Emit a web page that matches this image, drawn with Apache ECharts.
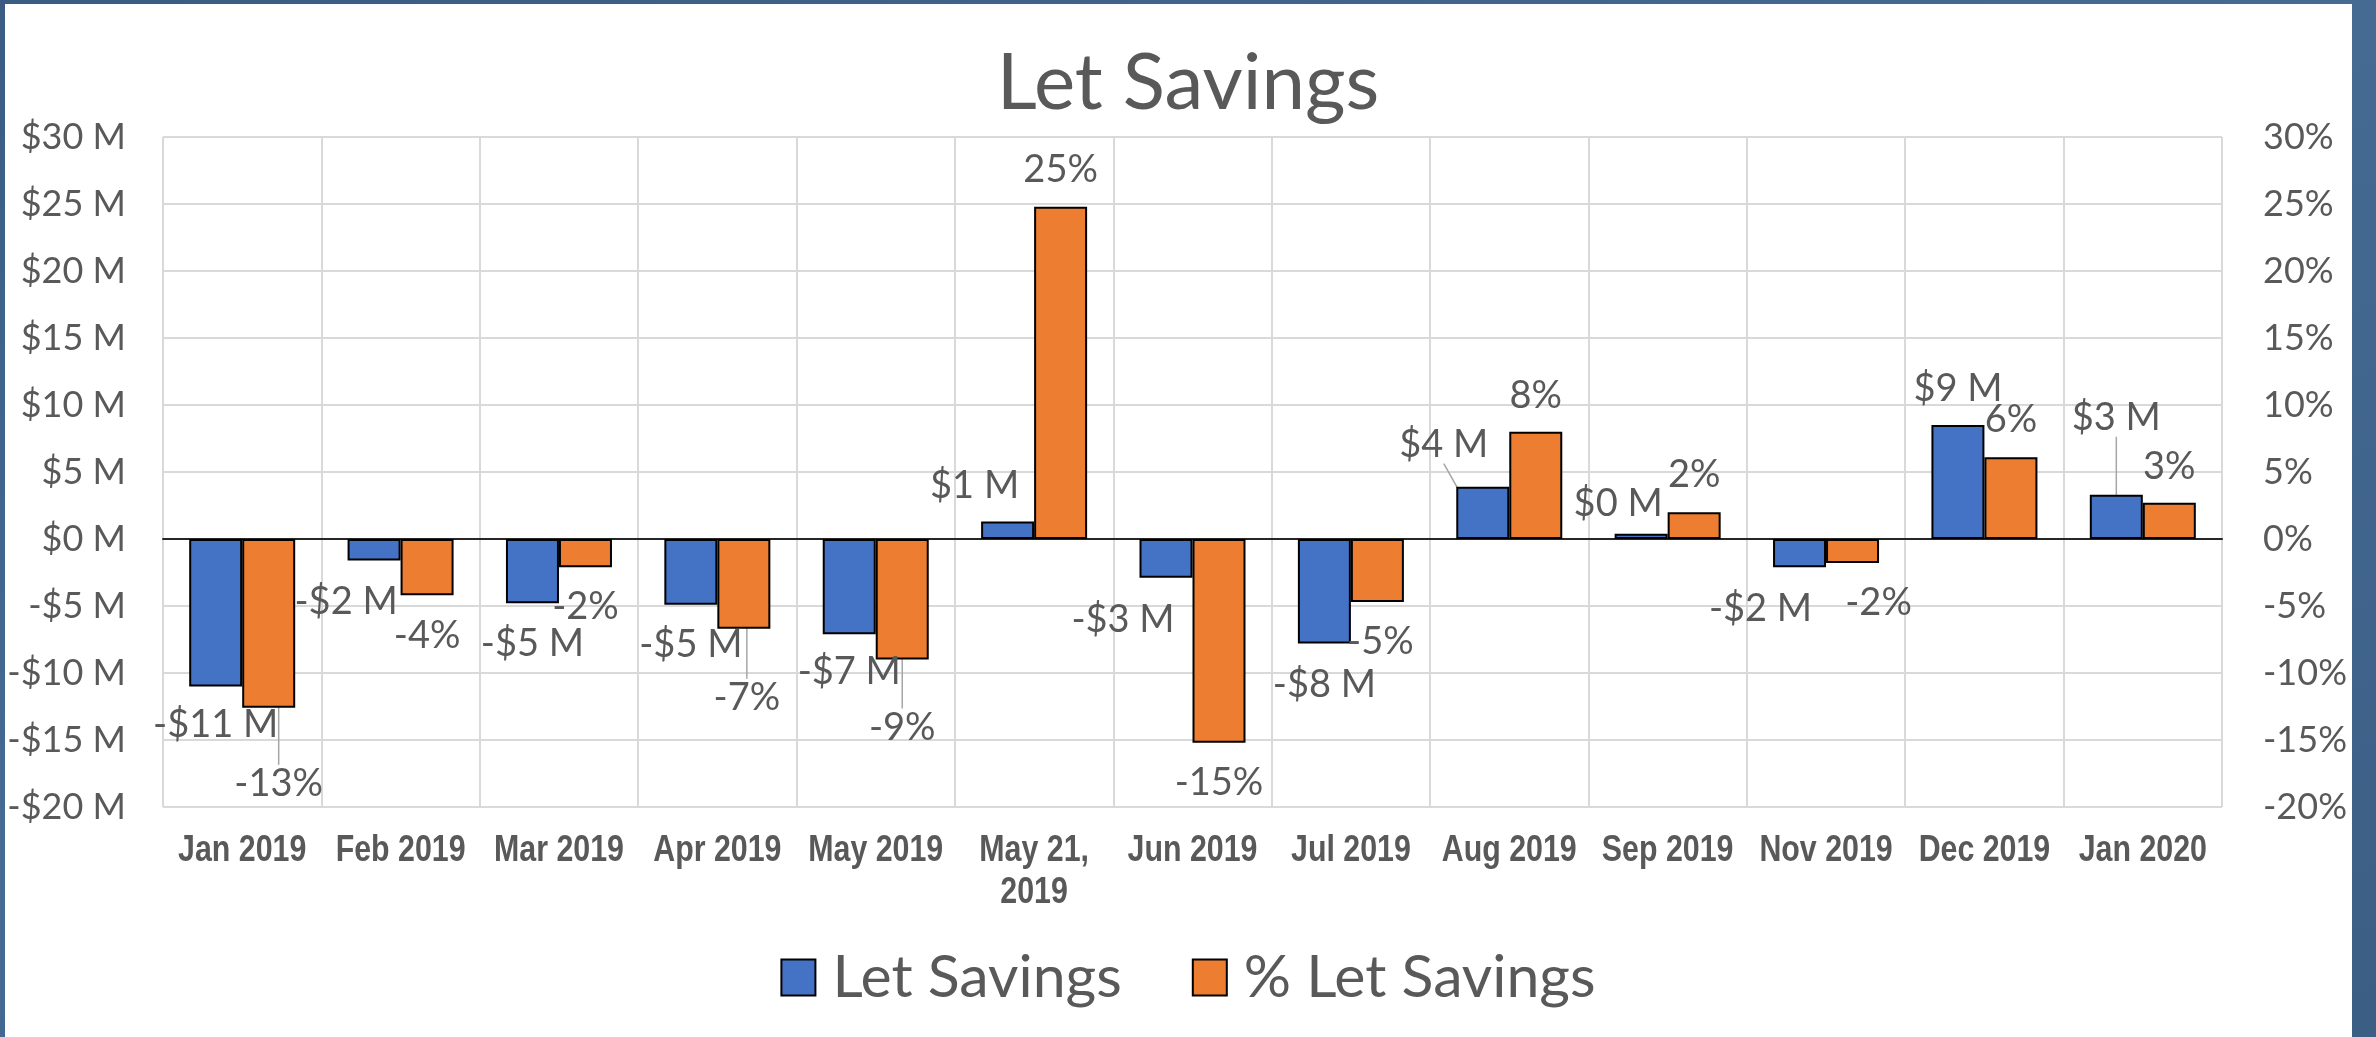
<!DOCTYPE html>
<html>
<head>
<meta charset="utf-8">
<title>Let Savings</title>
<script src="https://cdn.jsdelivr.net/npm/echarts@6/dist/echarts.min.js"></script>
<style>
  html, body { margin: 0; padding: 0; }
  body {
    width: 2376px; height: 1037px; overflow: hidden; position: relative;
    background: linear-gradient(160deg, #3a5c82 0%, #456b93 45%, #3b5e84 100%);
  }
  #panel { position: absolute; left: 5px; top: 4px; width: 2347px; height: 1033px; background: #fff; }
  #chart { position: absolute; left: 0; top: 0; width: 2376px; height: 1037px; }
</style>
</head>
<body>
<div id="panel"></div>
<div id="chart"></div>
<script>
  // categories (x axis)
  var months = ['Jan 2019', 'Feb 2019', 'Mar 2019', 'Apr 2019', 'May 2019', 'May 21, 2019',
    'Jun 2019', 'Jul 2019', 'Aug 2019', 'Sep 2019', 'Nov 2019', 'Dec 2019', 'Jan 2020'];
  // Let Savings, $ millions (left axis)
  var letSavings = [-11.0, -1.6, -4.8, -4.9, -7.1, 1.3, -2.9, -7.8, 3.9, 0.4, -2.1, 8.5, 3.3];
  // % Let Savings (right axis)
  var pctLetSavings = [-12.6, -4.2, -2.1, -6.7, -9.0, 24.8, -15.2, -4.7, 8.0, 2.0, -1.8, 6.1, 2.7];
  // axis ticks
  var moneyTicks = { min: -20, max: 30, step: 5 };
  var pctTicks = { min: -20, max: 30, step: 5 };

  // where excel left each data label, relative to the bar end (px)
  var blueLabelDx = [0, -28, 0, 0, 0, -33, -43, 0, -39, -23, -39, 0, 0];
  var blueLabelDy = [38, 41, 40, 40, 38, -36, 42, 41, -42, -30, 42, -36, -77];
  var orangeLabelDx = [10, 0, 0, 3, 0, 0, 0, 3, 0, 0, 26, 0, 0];
  var orangeLabelDy = [76, 40, 40, 69, 68, -37, 40, 40, -36, -37, 40, -38, -36];
  var blueLeaders = [8, 12];
  var orangeLeaders = [0, 3, 4];

  var textColor = '#595959';
  var font = 'Lato, "Open Sans", sans-serif';

  function moneyLabel(v) {
    var r = Math.round(v);
    return (r < 0 ? '-' : '') + '$' + Math.abs(r) + ' M';
  }

  function buildData(values, leaders) {
    return values.map(function (v, i) {
      var item = { value: v };
      if (leaders.indexOf(i) >= 0) {
        item.labelLine = { show: true };
      }
      return item;
    });
  }

  function layoutFor(values, dxs, dys) {
    return function (params) {
      var i = params.dataIndex;
      var r = params.rect;
      var endY = values[i] >= 0 ? r.y : r.y + r.height;
      return {
        x: r.x + r.width / 2 + dxs[i],
        y: endY + dys[i],
        align: 'center',
        verticalAlign: 'middle'
      };
    };
  }

  var labelStyle = {
    show: true,
    position: 'inside',
    color: textColor,
    fontFamily: font,
    fontSize: 38
  };

  var myChart = echarts.init(document.getElementById('chart'), null, { renderer: 'canvas' });

  var option = {
    backgroundColor: 'transparent',
    animation: false,
    title: {
      text: 'Let Savings',
      left: 1183,
      textAlign: 'center',
      top: 40,
      textStyle: { color: textColor, fontFamily: font, fontWeight: 'normal', fontSize: 78 }
    },
    legend: {
      data: ['Let Savings', '% Let Savings'],
      left: 'center',
      top: 943,
      itemWidth: 34,
      itemHeight: 36,
      itemGap: 70,
      icon: 'rect',
      textStyle: { color: textColor, fontFamily: font, fontSize: 59, padding: [0, 0, 0, 12] }
    },
    grid: { left: 163, right: 154, top: 137, bottom: 230, containLabel: false },
    xAxis: {
      type: 'category',
      data: months,
      axisLine: { show: true, onZero: true, lineStyle: { color: '#262626', width: 2 } },
      axisTick: { show: false },
      splitLine: { show: true, lineStyle: { color: '#d9d9d9', width: 2 } },
      // no narrow bold font here, the month names are drawn below as squeezed text
      axisLabel: { show: false }
    },
    yAxis: [
      {
        type: 'value',
        min: moneyTicks.min,
        max: moneyTicks.max,
        interval: moneyTicks.step,
        axisLine: { show: false },
        axisTick: { show: false },
        splitLine: { lineStyle: { color: '#d9d9d9', width: 2 } },
        axisLabel: {
          color: textColor, fontFamily: font, fontSize: 36, margin: 37,
          formatter: function (v) { return moneyLabel(v); }
        }
      },
      {
        type: 'value',
        min: pctTicks.min,
        max: pctTicks.max,
        interval: pctTicks.step,
        axisLine: { show: false },
        axisTick: { show: false },
        splitLine: { show: false },
        axisLabel: {
          color: textColor, fontFamily: font, fontSize: 36, margin: 41,
          formatter: '{value}%'
        }
      }
    ],
    series: [
      {
        name: 'Let Savings',
        type: 'bar',
        yAxisIndex: 0,
        barWidth: 53,
        barGap: '0%',
        data: buildData(letSavings, blueLeaders),
        itemStyle: { color: '#4472c4', borderColor: '#000', borderWidth: 2 },
        label: Object.assign({}, labelStyle, {
          formatter: function (p) { return moneyLabel(p.value); }
        }),
        labelLine: { show: false, lineStyle: { color: '#a6a6a6', width: 1.5 } },
        labelLayout: layoutFor(letSavings, blueLabelDx, blueLabelDy)
      },
      {
        name: '% Let Savings',
        type: 'bar',
        yAxisIndex: 1,
        barWidth: 53,
        barGap: '0%',
        data: buildData(pctLetSavings, orangeLeaders),
        itemStyle: { color: '#ed7d31', borderColor: '#000', borderWidth: 2 },
        label: Object.assign({}, labelStyle, {
          formatter: function (p) { return Math.round(p.value) + '%'; }
        }),
        labelLine: { show: false, lineStyle: { color: '#a6a6a6', width: 1.5 } },
        labelLayout: layoutFor(pctLetSavings, orangeLabelDx, orangeLabelDy)
      }
    ]
  };

  myChart.setOption(option, true);

  // month labels: bold, squeezed like Arial Narrow, placed with the axis scales
  var axisBottom = myChart.convertToPixel({ yAxisIndex: 0 }, moneyTicks.min);
  myChart.setOption({
    graphic: months.map(function (m) {
      return {
        type: 'text',
        x: myChart.convertToPixel({ xAxisIndex: 0 }, m),
        y: axisBottom + 23,
        scaleX: 0.82,
        silent: true,
        style: {
          text: m.replace(', ', ',\n'),
          fill: textColor,
          fontFamily: '"Liberation Sans", Arial, sans-serif',
          fontWeight: 'bold',
          fontSize: 37,
          lineHeight: 42,
          align: 'center',
          verticalAlign: 'top'
        }
      };
    })
  });
</script>
</body>
</html>
